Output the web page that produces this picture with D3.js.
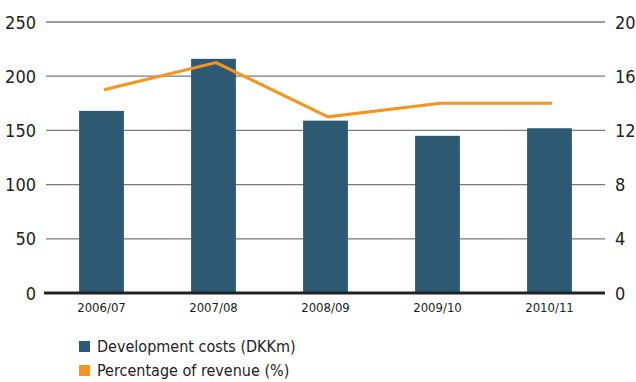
<!DOCTYPE html>
<html>
<head>
<meta charset="utf-8">
<script src="https://cdn.jsdelivr.net/npm/d3@7"></script>
<style>
  html, body { margin: 0; padding: 0; background: #fff; }
  svg { display: block; }
  text { font-family: "Liberation Sans Narrow", "DejaVu Sans Condensed", "Liberation Sans", sans-serif; fill: #222; }
</style>
</head>
<body>
<svg id="chart" width="636" height="382"></svg>
<script>
// Development costs and their share of revenue, by financial year
const years = ["2006/07", "2007/08", "2008/09", "2009/10", "2010/11"];
const devCosts = [168, 216, 159, 145, 152];      // DKKm
const revenuePct = [15, 17, 13, 14, 14];          // % of revenue
const leftTicks = [0, 50, 100, 150, 200, 250];
const rightTicks = [0, 4, 8, 12, 16, 20];
const legendLabels = ["Development costs (DKKm)", "Percentage of revenue (%)"];

const barColor = "#2d5a72";
const lineColor = "#f7941d";

const svg = d3.select("#chart");
const plotLeft = 46, plotRight = 605, plotTop = 22, plotBottom = 293;

const x = d3.scaleBand().domain(years).range([45.5, 605.5]).paddingInner(0.6).paddingOuter(0.3);
const yL = d3.scaleLinear().domain([0, 250]).range([plotBottom, plotTop]);
const yR = d3.scaleLinear().domain([0, 20]).range([plotBottom, plotTop]);

// gridlines
svg.append("g")
  .selectAll("line")
  .data(leftTicks.filter(d => d > 0))
  .join("line")
  .attr("x1", plotLeft).attr("x2", plotRight)
  .attr("y1", d => yL(d)).attr("y2", d => yL(d))
  .attr("stroke", "#7a7a7a").attr("stroke-width", 1.3);

// bars
svg.append("g")
  .selectAll("rect")
  .data(years)
  .join("rect")
  .attr("x", d => x(d))
  .attr("width", x.bandwidth())
  .attr("y", (d, i) => yL(devCosts[i]))
  .attr("height", (d, i) => plotBottom - yL(devCosts[i]))
  .attr("fill", barColor);

// baseline
svg.append("line")
  .attr("x1", plotLeft - 2).attr("x2", plotRight)
  .attr("y1", plotBottom).attr("y2", plotBottom)
  .attr("stroke", "#222").attr("stroke-width", 3);

// percentage line
const line = d3.line()
  .x((d, i) => x(years[i]) + x.bandwidth() / 2 + 2.5)
  .y(d => yR(d));
svg.append("path")
  .datum(revenuePct)
  .attr("d", line)
  .attr("fill", "none")
  .attr("stroke", lineColor)
  .attr("stroke-width", 3);

// left axis labels
const axL = svg.append("g").attr("transform", `translate(${plotLeft},0)`)
  .call(d3.axisLeft(yL).tickValues(leftTicks).tickSize(0).tickPadding(10));
axL.select(".domain").remove();
axL.selectAll("text").style("font-size", "18px").attr("dy", "0.34em");

// right axis labels
const axR = svg.append("g").attr("transform", `translate(${plotRight},0)`)
  .call(d3.axisRight(yR).tickValues(rightTicks).tickSize(0).tickPadding(10));
axR.select(".domain").remove();
axR.selectAll("text").style("font-size", "18px").attr("dy", "0.34em");

// category labels
const axB = svg.append("g").attr("transform", `translate(0,${plotBottom})`)
  .call(d3.axisBottom(x).tickSize(0).tickPadding(10));
axB.select(".domain").remove();
axB.selectAll("text").style("font-size", "13px");

// legend
const legend = svg.append("g").attr("transform", "translate(79,341)");
const items = legend.selectAll("g")
  .data(legendLabels)
  .join("g")
  .attr("transform", (d, i) => `translate(0,${i * 24})`);
items.append("rect")
  .attr("width", 11).attr("height", 11)
  .attr("fill", (d, i) => i === 0 ? barColor : lineColor);
items.append("text")
  .attr("x", 18).attr("y", 11)
  .style("font-size", "16px")
  .text(d => d);
</script>
</body>
</html>
